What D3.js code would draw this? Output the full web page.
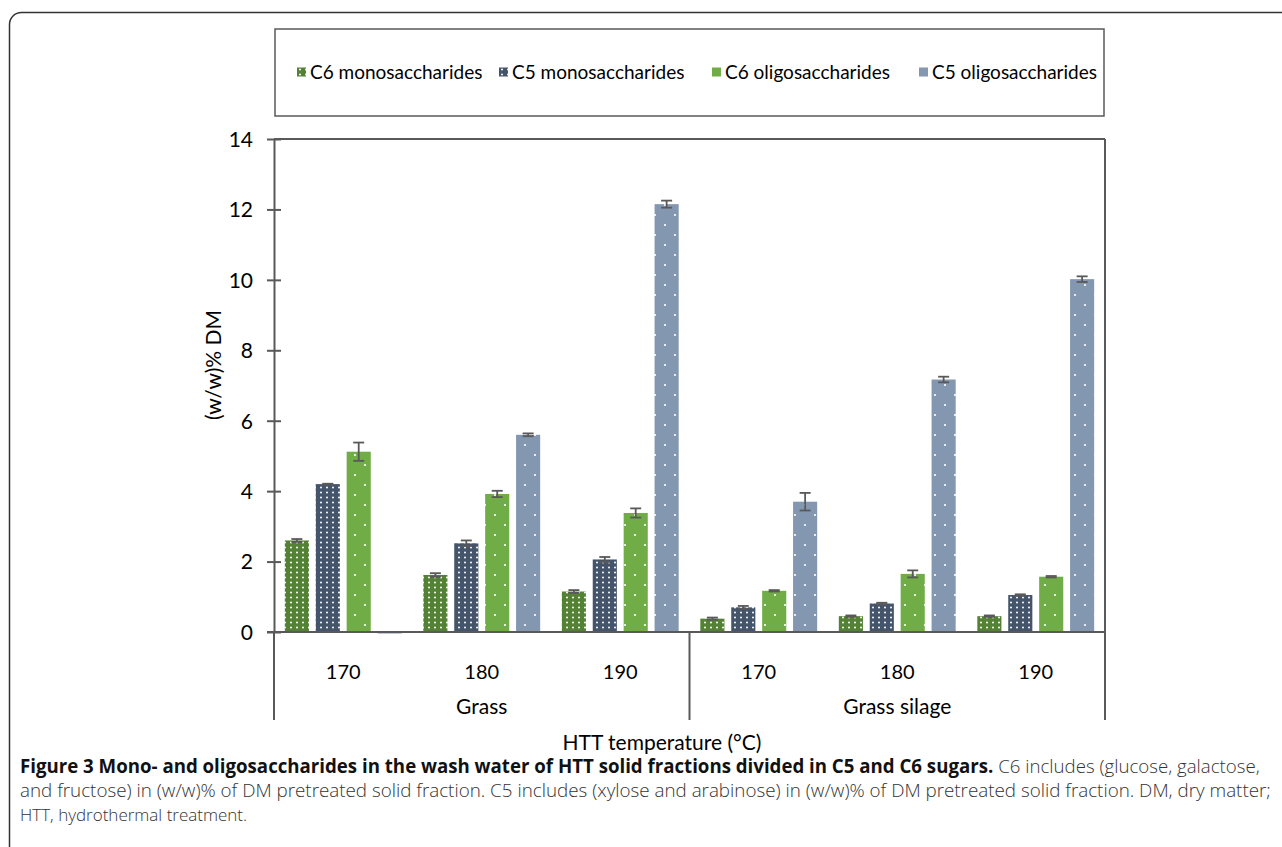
<script src="https://d3js.org/d3.v7.min.js"></script>

<style type="text/css">
  body { margin: 0; background: #fff; }
  svg { width: 1282px; height: 847px; display: block; }
  .lbl { font-family: Lato, "Open Sans", sans-serif; fill: #000; }
  .cap { font-family: "Open Sans", "Noto Sans", sans-serif; }
</style>

<body></body>

<script>
  // data
  var groups = ['Grass', 'Grass silage'];
  var temps = ['170', '180', '190'];
  var seriesNames = ['C6 monosaccharides', 'C5 monosaccharides', 'C6 oligosaccharides', 'C5 oligosaccharides'];
  var c6mono  = [2.6, 1.62, 1.15, 0.38, 0.45, 0.45];
  var c5mono  = [4.2, 2.52, 2.06, 0.70, 0.81, 1.05];
  var c6oligo = [5.12, 3.92, 3.38, 1.17, 1.65, 1.57];
  var c5oligo = [-0.03, 5.6, 12.15, 3.7, 7.17, 10.02];
  var c6monoErr  = [0.04, 0.05, 0.04, 0.03, 0.02, 0.02];
  var c5monoErr  = [0.01, 0.08, 0.07, 0.04, 0.02, 0.02];
  var c6oligoErr = [0.26, 0.09, 0.13, 0.02, 0.10, 0.02];
  var c5oligoErr = [0.00, 0.04, 0.10, 0.25, 0.08, 0.08];
  var yTicks = [0, 2, 4, 6, 8, 10, 12, 14];

  var colors = ['#548235', '#44546a', '#70ad47', '#8497b0'];

  // layout
  var width = 1282, height = 847;
  var margin = {top: 139, left: 274, right: 1105, bottom: 632};

  var svg = d3.select('body').append('svg');

  // patterns (white dots)
  var defs = svg.append('defs');
  colors.forEach(function(c, i) {
    var dense = i < 2;
    var size = dense ? 6 : 20;
    var p = defs.append('pattern')
      .attr('id', 'pat' + i)
      .attr('patternUnits', 'userSpaceOnUse')
      .attr('width', size).attr('height', dense ? 5 : 20);
    p.append('rect').attr('width', size).attr('height', dense ? 5 : 20).attr('fill', c);
    if (dense) {
      p.append('circle').attr('cx', 3).attr('cy', 2.5).attr('r', 1).attr('fill', '#fff');
    } else {
      p.append('circle').attr('cx', 5).attr('cy', 5).attr('r', 1.1).attr('fill', '#fff');
      p.append('circle').attr('cx', 15).attr('cy', 15).attr('r', 1.1).attr('fill', '#fff');
    }
  });

  // outer frame
  svg.append('rect')
    .attr('x', 9.5).attr('y', 12.5)
    .attr('width', 1400).attr('height', 900)
    .attr('rx', 12)
    .attr('fill', 'none').attr('stroke', '#333').attr('stroke-width', 1.5);

  // build rows
  var cats = [];
  groups.forEach(function(g) { temps.forEach(function(t) { cats.push(g + '|' + t); }); });
  var vals = [c6mono, c5mono, c6oligo, c5oligo];
  var errs = [c6monoErr, c5monoErr, c6oligoErr, c5oligoErr];
  var rows = [];
  cats.forEach(function(c, ci) {
    seriesNames.forEach(function(s, si) {
      rows.push({cat: c, series: s, si: si, v: vals[si][ci], e: errs[si][ci]});
    });
  });

  // scales
  var x0 = d3.scaleBand().domain(cats).range([margin.left, margin.right]);
  var x1 = d3.scaleBand().domain(seriesNames).range([0, x0.bandwidth()])
    .paddingInner(0.22).paddingOuter(0.35);
  var y = d3.scaleLinear().domain([0, 14]).range([margin.bottom, margin.top]);

  var axisColor = '#595959';

  // bars
  svg.append('g').selectAll('rect')
    .data(rows)
    .enter().append('rect')
      .attr('x', d => x0(d.cat) + x1(d.series))
      .attr('width', x1.bandwidth())
      .attr('y', d => y(Math.max(0, d.v)))
      .attr('height', d => Math.max(1.5, Math.abs(y(d.v) - y(0))))
      .attr('fill', d => 'url(#pat' + d.si + ')');

  // error bars
  var eb = svg.append('g').attr('stroke', axisColor).attr('stroke-width', 1.8)
    .selectAll('g').data(rows.filter(d => d.e > 0)).enter().append('g');
  eb.append('line')
    .attr('x1', d => x0(d.cat) + x1(d.series) + x1.bandwidth() / 2)
    .attr('x2', d => x0(d.cat) + x1(d.series) + x1.bandwidth() / 2)
    .attr('y1', d => y(d.v + d.e)).attr('y2', d => y(d.v - d.e));
  [1, -1].forEach(function(sg) {
    eb.append('line')
      .attr('x1', d => x0(d.cat) + x1(d.series) + x1.bandwidth() / 2 - 5.5)
      .attr('x2', d => x0(d.cat) + x1(d.series) + x1.bandwidth() / 2 + 5.5)
      .attr('y1', d => y(d.v + sg * d.e)).attr('y2', d => y(d.v + sg * d.e));
  });

  // y axis
  var yAxis = d3.axisLeft(y).tickValues(yTicks).tickSizeInner(7).tickSizeOuter(0).tickPadding(14);
  var gy = svg.append('g').attr('transform', 'translate(' + margin.left + ',0)').call(yAxis);
  gy.select('.domain').attr('stroke', axisColor).attr('stroke-width', 2);
  gy.selectAll('.tick line').attr('stroke', axisColor).attr('stroke-width', 2).attr('x2', -7).attr('x1', 7);
  gy.selectAll('.tick text').attr('class', 'lbl').attr('font-size', 21).attr('dy', '0.35em');

  // top and right frame of plot
  svg.append('line').attr('x1', margin.left).attr('x2', margin.right)
    .attr('y1', margin.top).attr('y2', margin.top).attr('stroke', axisColor).attr('stroke-width', 2);
  svg.append('line').attr('x1', margin.right).attr('x2', margin.right)
    .attr('y1', margin.top).attr('y2', 720).attr('stroke', axisColor).attr('stroke-width', 2);

  // x axis
  svg.append('line').attr('x1', margin.left - 7).attr('x2', margin.right)
    .attr('y1', y(0)).attr('y2', y(0)).attr('stroke', axisColor).attr('stroke-width', 2);
  svg.append('line').attr('x1', margin.left).attr('x2', margin.left)
    .attr('y1', y(0)).attr('y2', 720).attr('stroke', axisColor).attr('stroke-width', 2);
  var gMid = x0(groups[1] + '|' + temps[0]);
  svg.append('line').attr('x1', gMid).attr('x2', gMid)
    .attr('y1', y(0)).attr('y2', 720).attr('stroke', axisColor).attr('stroke-width', 2);

  svg.append('g').selectAll('text').data(cats).enter().append('text')
    .attr('class', 'lbl').attr('font-size', 20).attr('text-anchor', 'middle')
    .attr('x', d => x0(d) + x0.bandwidth() / 2).attr('y', 679)
    .text(d => d.split('|')[1]);
  svg.append('g').selectAll('text').data(groups).enter().append('text')
    .attr('class', 'lbl').attr('font-size', 21).attr('text-anchor', 'middle')
    .attr('x', g => x0(g + '|' + temps[1]) + x0.bandwidth() / 2).attr('y', 714)
    .text(g => g);

  svg.append('text').attr('class', 'lbl').attr('font-size', 21).attr('text-anchor', 'middle')
    .attr('x', 662).attr('y', 750).text('HTT temperature (°C)');

  svg.append('text').attr('class', 'lbl').attr('font-size', 21).attr('text-anchor', 'middle')
    .attr('transform', 'translate(221,365) rotate(-90)').text('(w/w)% DM');

  // legend
  svg.append('rect').attr('x', 275).attr('y', 29).attr('width', 829).attr('height', 87)
    .attr('fill', '#fff').attr('stroke', axisColor).attr('stroke-width', 1.5);
  var legX = [297, 499, 712, 919];
  var leg = svg.append('g').selectAll('g').data(seriesNames).enter().append('g')
    .attr('transform', (d, i) => 'translate(' + legX[i] + ',72)');
  leg.append('rect').attr('x', 0).attr('y', -4.5).attr('width', 9).attr('height', 9)
    .attr('fill', (d, i) => i < 2 ? 'url(#pat' + i + ')' : colors[i]);
  leg.append('text').attr('class', 'lbl').attr('font-size', 19).attr('x', 13).attr('dy', '0.35em')
    .text(d => d);

  // caption
  var capLines = [
    {y: 773, w: 1241, parts: [
      {t: 'Figure 3 Mono- and oligosaccharides in the wash water of HTT solid fractions divided in C5 and C6 sugars.', b: true},
      {t: ' C6 includes (glucose, galactose,', b: false}]},
    {y: 797, w: 1252, parts: [
      {t: 'and fructose) in (w/w)% of DM pretreated solid fraction. C5 includes (xylose and arabinose) in (w/w)% of DM pretreated solid fraction. DM, dry matter;', b: false}]},
    {y: 821, w: 0, parts: [{t: 'HTT, hydrothermal treatment.', b: false}]}
  ];
  capLines.forEach(function(l) {
    var t = svg.append('text').attr('class', 'cap').attr('x', 20).attr('y', l.y).attr('font-size', 17);
    l.parts.forEach(function(p) {
      t.append('tspan').text(p.t)
        .attr('font-weight', p.b ? 700 : 300)
        .attr('fill', p.b ? '#111' : '#333');
    });
    if (l.w) {
      var len = t.node().getComputedTextLength();
      t.attr('font-size', 17 * l.w / len);
    }
  });
</script>
